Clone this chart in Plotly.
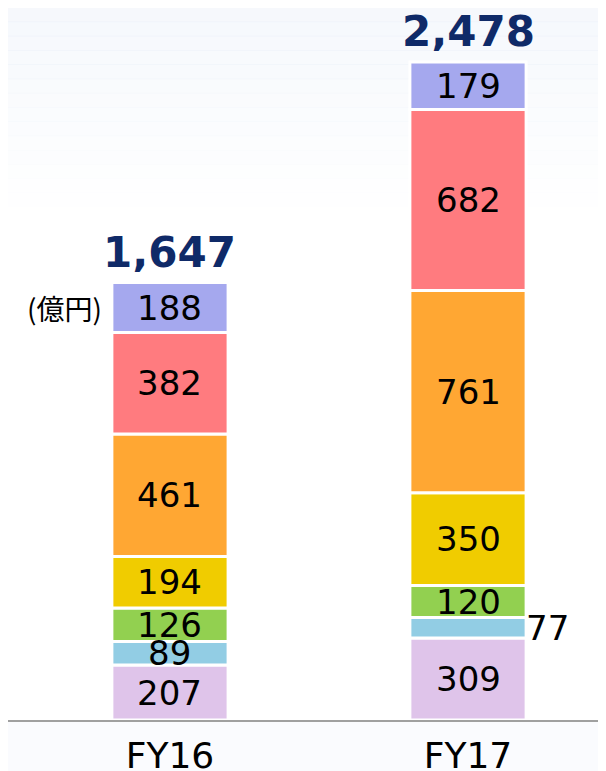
import plotly.graph_objects as go

categories = ['FY16', 'FY17']
totals = [1647, 2478]
seg_names = ['seg_1', 'seg_2', 'seg_3', 'seg_4', 'seg_5', 'seg_6', 'seg_7']
seg_values = [
    [207, 309],
    [89, 77],
    [126, 120],
    [194, 350],
    [461, 761],
    [382, 682],
    [188, 179],
]
seg_colors = ['#dfc4ea', '#92cde4', '#92d050', '#f0cc00', '#ffa733', '#ff7b7f', '#a5a8ee']
unit_label = '(億円)'

fig = go.Figure()

base = [0, 0]
for name, vals, col in zip(seg_names, seg_values, seg_colors):
    fig.add_trace(go.Bar(
        x=categories, y=vals, base=base[:], name=name,
        marker=dict(color=col, line=dict(color='white', width=3)),
        width=0.39, textposition='none', showlegend=False,
        hoverinfo='skip'))
    for i, cat in enumerate(categories):
        mid = base[i] + vals[i] / 2
        outside = vals[i] < 80
        fig.add_annotation(
            x=cat, y=mid, text=str(vals[i]), showarrow=False,
            xanchor='left' if outside else 'center',
            xshift=56 if outside else 0,
            font=dict(size=34, color='black', family='DejaVu Sans'))
    base = [b + v for b, v in zip(base, vals)]

for cat, tot in zip(categories, totals):
    fig.add_annotation(
        x=cat, y=tot, text='<b>{:,}</b>'.format(tot), showarrow=False,
        yanchor='bottom', yshift=9, height=40, valign='middle',
        font=dict(size=42, color='#0f2a68', family='DejaVu Sans'))

fig.add_annotation(
    x=categories[0], y=totals[0] - seg_values[-1][0] / 2, text=unit_label,
    showarrow=False, xanchor='right', xshift=-66,
    font=dict(size=28, color='black', family='Noto Sans CJK JP'))

# soft blue wash at the top of the page
n = 14
for k in range(n):
    y0 = 1.0 - k * 0.02
    a = 0.09 * (1 - k / n)
    fig.add_shape(type='rect', xref='paper', yref='paper',
                  x0=0, x1=1, y0=y0 - 0.02, y1=y0 + 0.001,
                  fillcolor='rgba(150,180,225,{:.3f})'.format(a),
                  line_width=0, layer='below')
fig.add_shape(type='rect', xref='paper', yref='paper',
              x0=0, x1=1, y0=-0.08, y1=0,
              fillcolor='rgba(170,195,230,0.06)', line_width=0, layer='below')

fig.update_layout(
    width=598, height=763,
    margin=dict(l=0, r=0, t=0, b=51),
    plot_bgcolor='rgba(0,0,0,0)',
    paper_bgcolor='white',
    barmode='overlay',
    xaxis=dict(
        range=[-0.5436, 1.4631],
        showgrid=False, zeroline=False, automargin=False,
        showline=True, linecolor='#a0a0a0', linewidth=2,
        ticks='', ticklabelstandoff=3,
        tickfont=dict(size=36, color='black', family='DejaVu Sans'),
        fixedrange=True),
    yaxis=dict(
        range=[0, 2681], visible=False, showgrid=False, fixedrange=True,
        automargin=False),
    font=dict(family='DejaVu Sans'),
)

fig.write_html("out.html")
